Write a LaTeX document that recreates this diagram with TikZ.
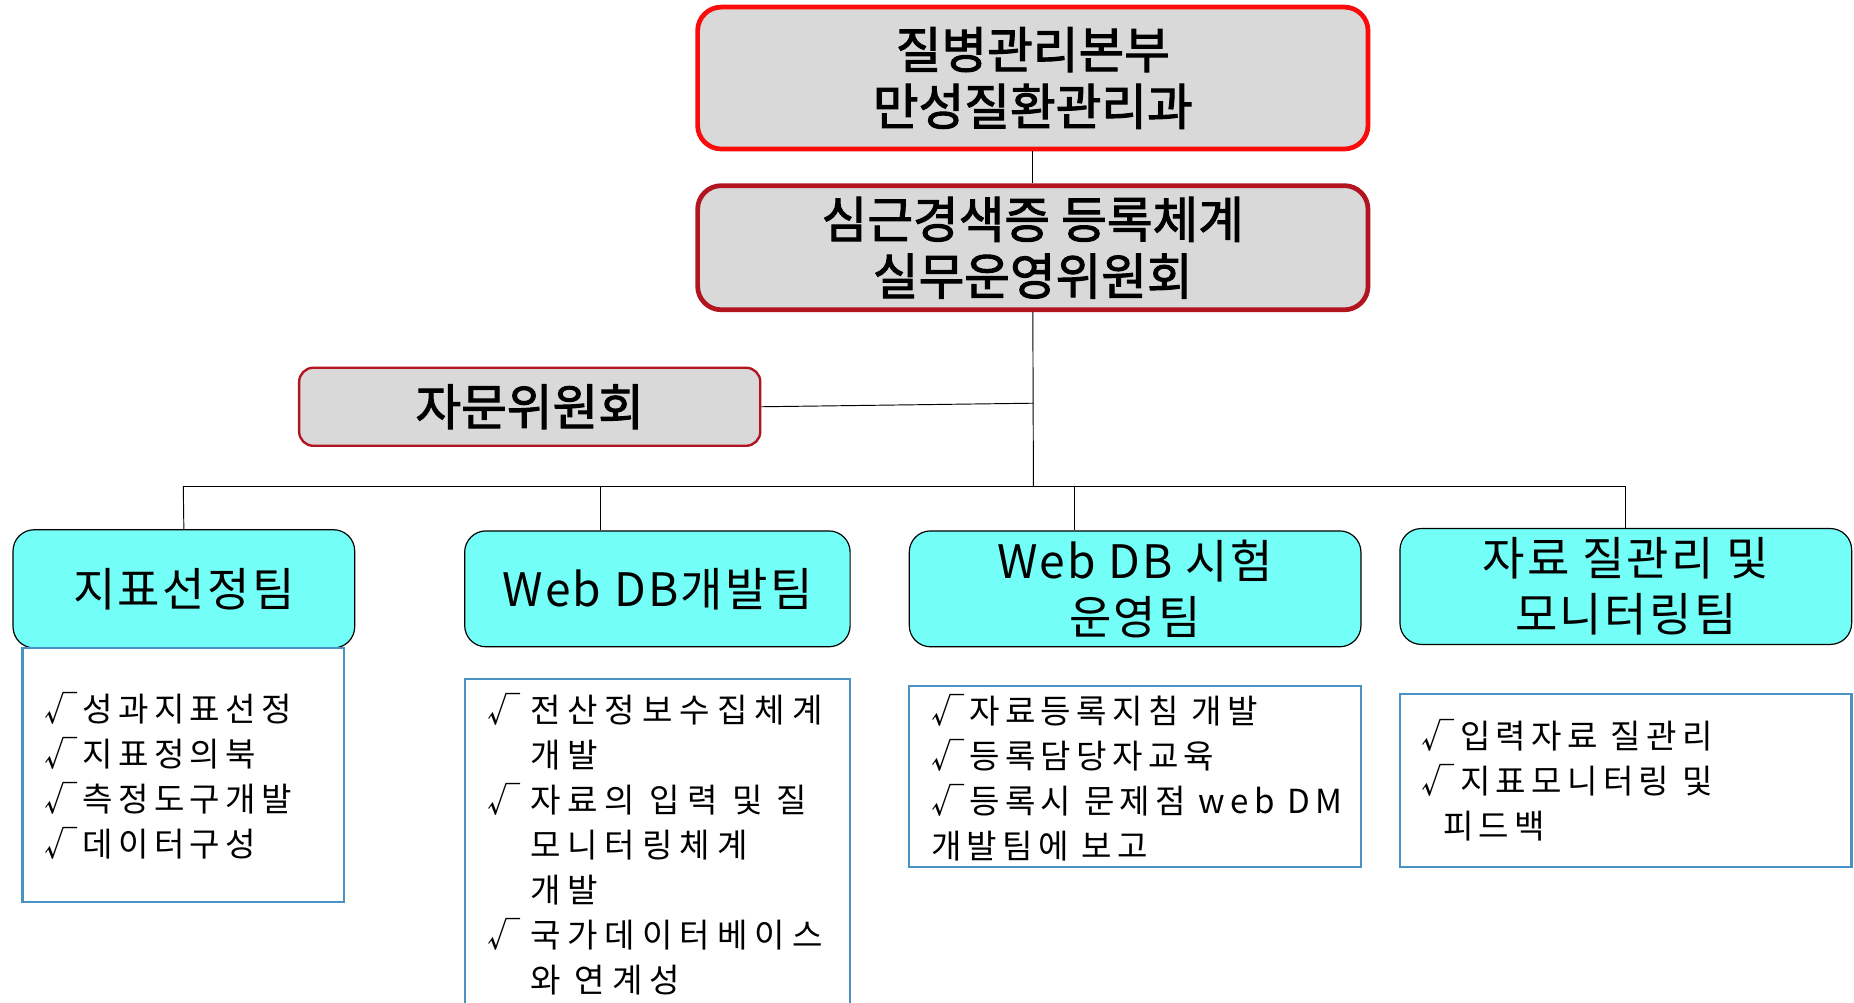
\documentclass[tikz,border=0pt]{standalone}
\usepackage{fontspec}
\setmainfont{Noto Sans CJK KR}

\definecolor{boxgray}{RGB}{217,217,217}
\definecolor{headred}{RGB}{250,12,12}
\definecolor{darkred}{RGB}{178,20,32}
\definecolor{teamcyan}{RGB}{115,255,247}
\definecolor{listblue}{RGB}{74,145,196}

\begin{document}
\begin{tikzpicture}[x=0.5pt, y=-0.5pt,
  headbox/.style={draw=headred, line width=2pt, fill=boxgray, rounded corners=10pt, align=center,
    font=\fontsize{21}{24}\selectfont\addfontfeature{FakeBold=2}},
  cmtebox/.style={headbox, draw=darkred},
  advbox/.style={draw=darkred, line width=1pt, fill=boxgray, rounded corners=6pt,
    font=\fontsize{21}{24}\selectfont\addfontfeature{FakeBold=2}},
  teambox/.style={draw=black, line width=0.5pt, fill=teamcyan, rounded corners=9pt, align=center,
    font=\fontsize{19.5}{23.5}\selectfont\addfontfeature{LetterSpace=5}},
  listbox/.style={draw=listblue, line width=1pt, fill=white},
  listtext/.style={anchor=north west, align=left, inner sep=0pt,
    font=\fontsize{14}{19}\selectfont\addfontfeature{LetterSpace=16}}]
  \useasboundingbox (0,0) rectangle (1568,848);

  % Top of the chart
  \node[headbox, minimum width=283.5pt, minimum height=60pt] (hq) at (873.5,66) {질병관리본부\\만성질환관리과};
  \node[cmtebox, minimum width=283.5pt, minimum height=52.5pt] (cmte) at (873.5,209.5) {심근경색증 등록체계\\실무운영위원회};
  \node[advbox, minimum width=195pt, minimum height=33pt] (adv) at (448,344) {자문위원회};

  % Teams
  \node[teambox, minimum width=144.5pt, minimum height=50pt] (idx) at (155.5,498) {지표선정팀};
  \node[teambox, minimum width=163pt, minimum height=49pt] (dev) at (556,498) {Web DB개발팀};
  \node[teambox, minimum width=191pt, minimum height=49pt] (run) at (960,498) {Web DB 시험\\운영팀};
  \node[teambox, minimum width=191pt, minimum height=49pt] (qc) at (1375,496) {자료 질관리 및\\모니터링팀};

  % Task lists
  \node[listbox, minimum width=136pt, minimum height=107.5pt] (idxlist) at (155,655.5) {};
  \node[listbox, minimum width=163pt, minimum height=155pt] (devlist) at (556,729) {};
  \node[listbox, minimum width=191pt, minimum height=76.5pt] (runlist) at (960,656.5) {};
  \node[listbox, minimum width=191pt, minimum height=73pt] (qclist) at (1375,660) {};

  \node[listtext] (idxtxt) at (37,585) {√성과지표선정\\√지표정의북\\√측정도구개발\\√데이터구성};
  \node[listtext, font=\fontsize{14}{19}\selectfont\addfontfeature{LetterSpace=21}] (devtxt) at (412,586) {\makebox[18pt][l]{√}전산정보수집체계\\
    \hspace*{18pt}개발\\
    \makebox[18pt][l]{√}자료의 입력 및 질\\
    \hspace*{18pt}모니터링체계\\
    \hspace*{18pt}개발\\
    \makebox[18pt][l]{√}국가데이터베이스\\
    \hspace*{18pt}와 연계성};
  \node[listtext] (runtxt) at (787,587) {√자료등록지침 개발\\√등록담당자교육\\√등록시 문제점 web DM\\개발팀에 보고};
  \node[listtext] (qctxt) at (1202,608) {√입력자료 질관리\\√지표모니터링 및\\\hspace*{9pt}피드백};

  % Connectors
  \coordinate (hub) at (874,411);
  \coordinate (advj) at (874,341);
  \coordinate (b1) at (155,411);
  \coordinate (b2) at (508,411);
  \coordinate (b3) at (909,411);
  \coordinate (b4) at (1375,411);
  \draw (hq.south) -- (cmte.north);
  \draw (cmte.south) -- (hub);
  \draw (adv.east) -- (advj);
  \draw (b1) -- (b4);
  \draw (b1) -- (idx.north);
  \draw (b2) -- (b2 |- dev.north);
  \draw (b3) -- (b3 |- run.north);
  \draw (b4) -- (qc.north);
\end{tikzpicture}
\end{document}
